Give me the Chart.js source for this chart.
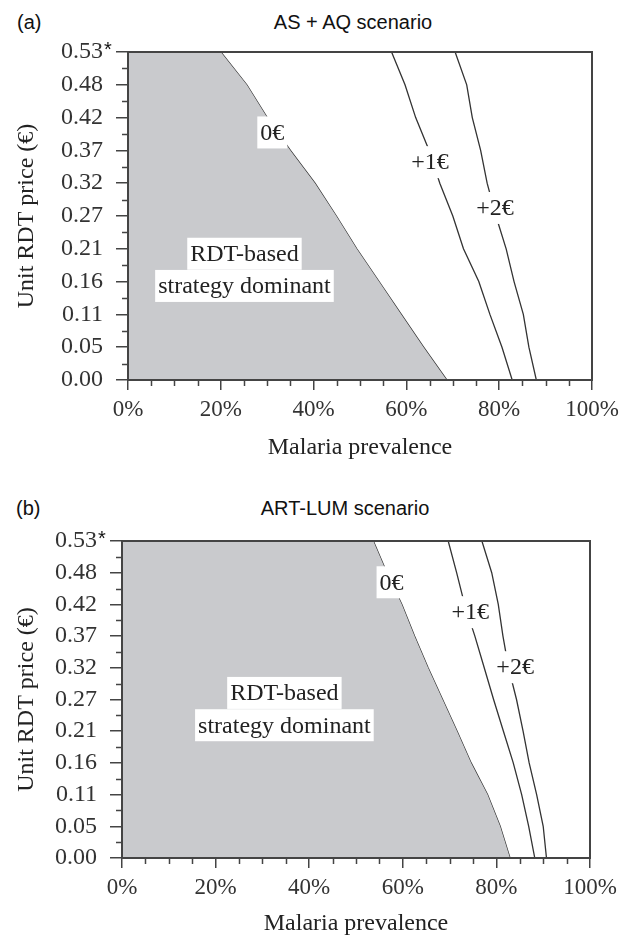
<!DOCTYPE html>
<html>
<head>
<meta charset="utf-8">
<script src="https://cdn.jsdelivr.net/npm/chart.js@4.4.1/dist/chart.umd.min.js"></script>
<style>
body{margin:0;background:#fff;width:632px;height:936px;position:relative;overflow:hidden;font-family:"Liberation Sans",Arial,sans-serif}
canvas{position:absolute;left:0}
.lbl{position:absolute;font-size:20px;line-height:24px;color:#111;white-space:nowrap}
</style>
</head>
<body>
<div class="lbl" style="left:17px;top:10px">(a)</div>
<div class="lbl" style="left:353px;top:10px;transform:translateX(-50%)">AS + AQ scenario</div>
<canvas id="chartA" width="632" height="470" style="top:0"></canvas>

<div class="lbl" style="left:16px;top:496px">(b)</div>
<div class="lbl" style="left:345px;top:496px;transform:translateX(-50%)">ART-LUM scenario</div>
<canvas id="chartB" width="632" height="468" style="top:468px"></canvas>

<script>
// unit RDT price (euro), top to bottom, same grid for every curve
const priceGrid = [0.53, 0.477, 0.424, 0.371, 0.318, 0.265, 0.212, 0.159, 0.106, 0.053, 0];
const yTickLabels = ['0.00','0.05','0.11','0.16','0.21','0.27','0.32','0.37','0.42','0.48','0.53'];
const xTickLabels = ['0%','20%','40%','60%','80%','100%'];

// (a) AS+AQ : malaria prevalence (%) at which the extra cost is 0, +1, +2 euro
const asaqZero  = [20.0, 25.6, 30.0, 35.0, 40.3, 44.9, 49.3, 54.1, 58.9, 63.7, 68.7];
const asaqPlus1 = [56.8, 59.7, 62.0, 64.9, 67.2, 70.0, 72.3, 75.6, 78.0, 80.6, 82.8];
const asaqPlus2 = [70.5, 73.0, 74.2, 76.0, 77.4, 79.3, 81.5, 83.2, 85.2, 86.4, 88.0];

// (b) ART-LUM
const artZero  = [53.7, 56.6, 59.8, 62.5, 65.4, 68.5, 71.6, 74.6, 78.1, 80.8, 82.9];
const artPlus1 = [69.7, 71.5, 73.2, 75.4, 77.4, 79.4, 81.5, 83.6, 85.4, 86.9, 88.2];
const artPlus2 = [76.9, 79.0, 80.4, 81.4, 82.6, 84.3, 85.7, 87.0, 88.6, 90.0, 90.7];

const curveLabels = ['0€', '+1€', '+2€'];
const regionLabel = ['RDT-based', 'strategy dominant'];

const serif = '"Liberation Serif","Times New Roman",serif';
const shade = '#c9cacd';
const ink = '#333';
const frame = '#444';

function curve(xs) {
    return xs.map((v, i) => ({x: v, y: priceGrid[i]}));
}

// white boxed text written in data units
const notesPlugin = {
    id: 'notes',
    afterDatasetsDraw(chart, args, opts) {
        let ctx = chart.ctx, x = chart.scales.x, y = chart.scales.y;
        ctx.save();
        ctx.font = '24px ' + serif;
        ctx.textAlign = 'center';
        ctx.textBaseline = 'middle';
        for (let n of opts.items) {
            let px = x.getPixelForValue(n.x), py = y.getPixelForValue(n.y);
            let w = ctx.measureText(n.text).width + 6;
            ctx.fillStyle = '#fff';
            ctx.fillRect(px - w / 2, py - 16, w, 32);
            ctx.fillStyle = '#222';
            ctx.fillText(n.text, px, py + 1);
        }
        ctx.restore();
    }
};

// box round the plot, minor ticks and the asterisk on 0.53
const framePlugin = {
    id: 'frame',
    afterDraw(chart) {
        let ctx = chart.ctx, a = chart.chartArea, x = chart.scales.x, y = chart.scales.y;
        ctx.save();
        ctx.strokeStyle = frame;
        ctx.lineWidth = 2;
        ctx.strokeRect(a.left, a.top, a.right - a.left, a.bottom - a.top);
        ctx.lineWidth = 1.5;
        ctx.beginPath();
        for (let v = 5; v < 100; v += 5) {
            if (v % 20 == 0) continue;
            let px = Math.round(x.getPixelForValue(v)) + 0.5;
            ctx.moveTo(px, a.bottom);
            ctx.lineTo(px, a.bottom + 6);
        }
        for (let i = 0; i < y.ticks.length - 1; i++) {
            let mid = (y.ticks[i].value + y.ticks[i + 1].value) / 2;
            let py = Math.round(y.getPixelForValue(mid)) + 0.5;
            ctx.moveTo(a.left, py);
            ctx.lineTo(a.left - 6, py);
        }
        ctx.stroke();
        ctx.fillStyle = '#111';
        ctx.font = '20px "Liberation Sans",Arial,sans-serif';
        ctx.textAlign = 'center';
        ctx.textBaseline = 'middle';
        ctx.fillText('*', a.left - 20, a.top - 2);
        ctx.restore();
    }
};

function makeChart(id, zero, plus1, plus2, notes, padTop, padRight, padBottom, yW, xH) {
    let lineSet = (xs) => ({
        data: curve(xs), borderColor: ink, borderWidth: 1.3,
        pointRadius: 0, fill: false, tension: 0
    });
    let ctx = document.getElementById(id).getContext('2d');
    return new Chart(ctx, {
        type: 'line',
        data: {
            datasets: [
                {
                    data: [{x: 0, y: priceGrid[0]}].concat(curve(zero)),
                    backgroundColor: shade, borderWidth: 0, pointRadius: 0, fill: 'start'
                },
                lineSet(zero),
                lineSet(plus1),
                lineSet(plus2)
            ]
        },
        options: {
            responsive: false,
            animation: false,
            events: [],
            layout: {padding: {top: padTop, right: padRight, bottom: padBottom, left: 0}},
            plugins: {
                legend: {display: false},
                tooltip: {enabled: false},
                notes: {items: notes}
            },
            scales: {
                x: {
                    type: 'linear', min: 0, max: 100,
                    border: {display: false},
                    grid: {drawOnChartArea: false, tickLength: 10, color: frame, lineWidth: 1.5},
                    ticks: {
                        stepSize: 20, padding: 6, color: ink, autoSkip: false, maxRotation: 0,
                        font: {family: serif, size: 23},
                        callback: (v, i) => xTickLabels[i]
                    },
                    title: {
                        display: true, text: 'Malaria prevalence', color: '#222',
                        font: {family: serif, size: 24, lineHeight: 1},
                        padding: {top: 0, bottom: 0}
                    },
                    afterFit: (s) => { s.height = xH; }
                },
                y: {
                    min: 0, max: 0.53,
                    border: {display: false},
                    grid: {drawOnChartArea: false, tickLength: 12, color: frame, lineWidth: 1.5},
                    afterBuildTicks: (s) => {
                        s.ticks = priceGrid.slice().reverse().map(v => ({value: v}));
                    },
                    ticks: {
                        padding: 13, color: ink, autoSkip: false,
                        font: {family: serif, size: 24},
                        callback: (v, i) => yTickLabels[i]
                    },
                    title: {
                        display: true, text: 'Unit RDT price (€)', color: '#222',
                        font: {family: serif, size: 24, lineHeight: 1},
                        padding: {top: 15, bottom: 0}
                    },
                    afterFit: (s) => { s.width = yW; }
                }
            }
        },
        plugins: [notesPlugin, framePlugin]
    });
}

makeChart('chartA', asaqZero, asaqPlus1, asaqPlus2, [
    {text: curveLabels[0], x: 31.1, y: 0.400},
    {text: curveLabels[1], x: 65.1, y: 0.352},
    {text: curveLabels[2], x: 79.1, y: 0.278},
    {text: regionLabel[0], x: 25.1, y: 0.204},
    {text: regionLabel[1], x: 25.1, y: 0.152}
], 52, 40, 10, 128, 80);

makeChart('chartB', artZero, artPlus1, artPlus2, [
    {text: curveLabels[0], x: 57.6, y: 0.461},
    {text: curveLabels[1], x: 74.4, y: 0.411},
    {text: curveLabels[2], x: 84.0, y: 0.319},
    {text: regionLabel[0], x: 34.7, y: 0.276},
    {text: regionLabel[1], x: 34.7, y: 0.222}
], 73, 42, 0, 122, 78);
</script>
</body>
</html>
